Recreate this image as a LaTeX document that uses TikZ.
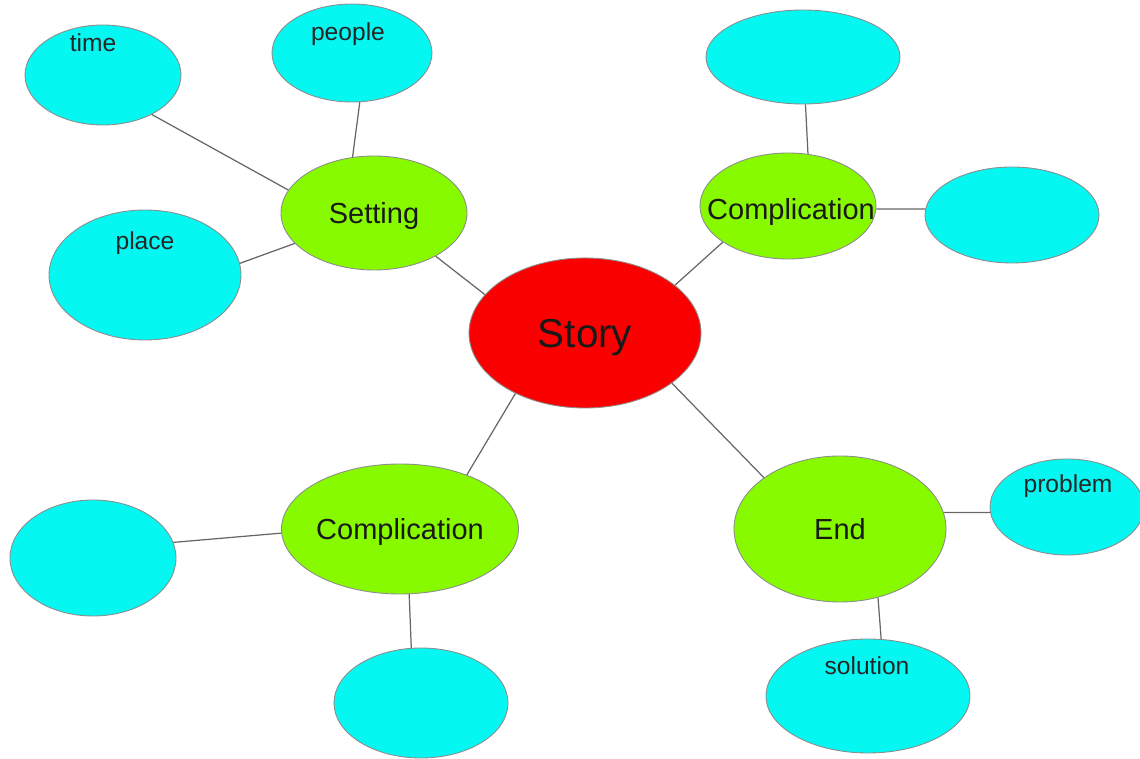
\documentclass[tikz,border=0pt]{standalone}
\usepackage{fontspec}
\setmainfont{Liberation Sans}
\usetikzlibrary{shapes.geometric}
\definecolor{leafcyan}{RGB}{5,247,242}
\definecolor{midgreen}{RGB}{136,250,0}
\definecolor{hubred}{RGB}{250,0,0}
\tikzset{
  blob/.style={ellipse, draw=black!45, line width=0.5pt, inner sep=0pt, text depth=0pt},
  leaf/.style={blob, fill=leafcyan},
  mid/.style={blob, fill=midgreen, font=\fontsize{16.5}{19}\selectfont, text=black!90},
  hub/.style={blob, fill=hubred, font=\fontsize{23}{27}\selectfont, text=black!90},
  leaftext/.style={font=\fontsize{14}{16}\selectfont, text=black!85, inner sep=0pt},
  link/.style={draw=black!60, line width=0.7pt}
}
\begin{document}
\begin{tikzpicture}[x=0.02cm, y=-0.02cm]
\useasboundingbox (0,0) rectangle (1140,759);
% leaves
\node[leaf, minimum width=156*0.02cm, minimum height=100*0.02cm] (time) at (103,75) {};
\node[leaf, minimum width=160*0.02cm, minimum height=98*0.02cm] (people) at (352,53) {};
\node[leaf, minimum width=192*0.02cm, minimum height=130*0.02cm] (place) at (145,275) {};
\node[leaf, minimum width=194*0.02cm, minimum height=94*0.02cm] (topblank) at (803,57) {};
\node[leaf, minimum width=174*0.02cm, minimum height=96*0.02cm] (rightblank) at (1012,215) {};
\node[leaf, minimum width=166*0.02cm, minimum height=116*0.02cm] (leftblank) at (93,558) {};
\node[leaf, minimum width=174*0.02cm, minimum height=110*0.02cm] (botblank) at (421,703) {};
\node[leaf, minimum width=154*0.02cm, minimum height=96*0.02cm] (problem) at (1067,507) {};
\node[leaf, minimum width=204*0.02cm, minimum height=114*0.02cm] (solution) at (868,696) {};
% leaf labels
\node[leaftext] (timet) at (93,43) {time};
\node[leaftext] (peoplet) at (348,34) {people};
\node[leaftext] (placet) at (145,243) {place};
\node[leaftext] (problemt) at (1068,486) {problem};
\node[leaftext] (solutiont) at (867,666) {solution};
% middle
\node[mid, minimum width=186*0.02cm, minimum height=114*0.02cm] (setting) at (374,213) {Setting};
\node[mid, minimum width=176*0.02cm, minimum height=106*0.02cm] (comptop) at (788,206) {};
\node[font=\fontsize{16.5}{19}\selectfont, text=black!90, inner sep=0pt, text depth=0pt] (comptopt) at (791,209) {Complication};
\node[mid, minimum width=218*0.02cm, minimum height=130*0.02cm] (compbot) at (400,529) {Complication};
\node[mid, minimum width=212*0.02cm, minimum height=146*0.02cm] (end) at (840,529) {End};
% hub
\node[hub, minimum width=232*0.02cm, minimum height=150*0.02cm] (story) at (585,333) {Story};
% links
\draw[link] (time.-39) -- (setting.165.5);
\draw[link] (people.-81) -- (setting.111);
\draw[link] (place.7.7) -- (setting.-159);
\draw[link] (setting.-35) -- (story.159);
\draw[link] (story.28.5) -- (comptop.-151.5);
\draw[link] (comptop.69) -- (topblank.-87.5);
\draw[link] (comptop.-2.6) -- (rightblank.176.7);
\draw[link] (story.-139.8) -- (compbot.39.5);
\draw[link] (compbot.182) -- (leftblank.11.6);
\draw[link] (compbot.-82) -- (botblank.100);
\draw[link] (story.-30.6) -- (end.146.5);
\draw[link] (end.9.6) -- (problem.-176.7);
\draw[link] (end.-61) -- (solution.77.7);
\end{tikzpicture}
\end{document}
